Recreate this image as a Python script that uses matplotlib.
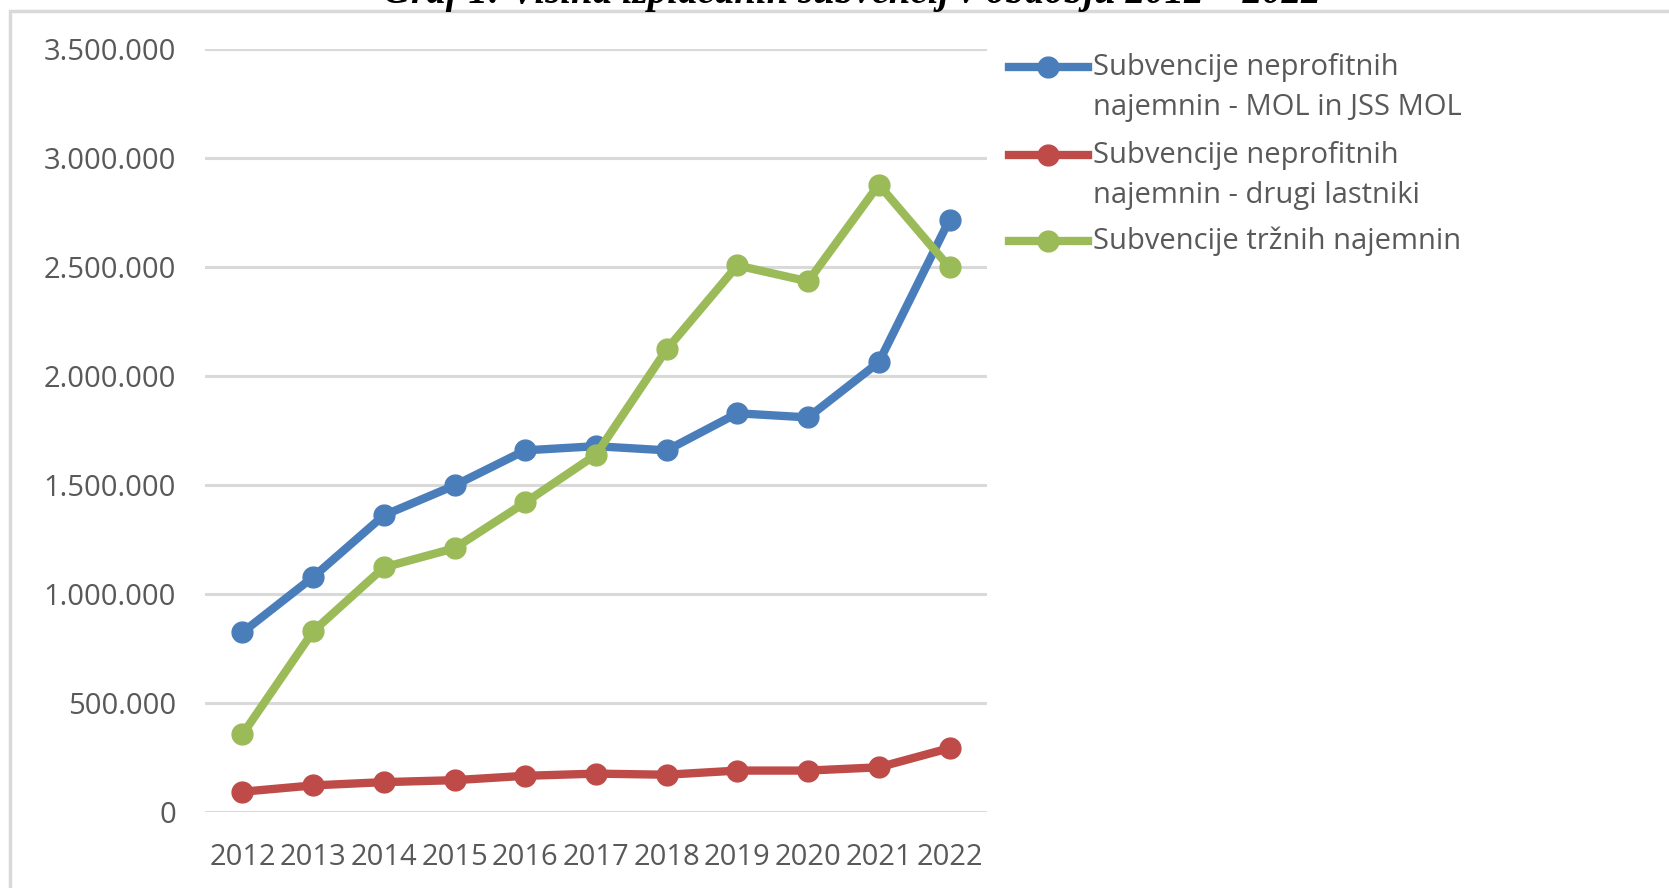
import numpy as np
import matplotlib.pyplot as plt
from matplotlib.lines import Line2D
from matplotlib.patches import Rectangle
from matplotlib.ticker import FuncFormatter, MultipleLocator

# podatki (odčitano z grafa)
years = [2012, 2013, 2014, 2015, 2016, 2017, 2018, 2019, 2020, 2021, 2022]
mol_jss = [824000, 1078000, 1361000, 1498000, 1659000, 1678000, 1659000, 1829000, 1810000, 2063000, 2717000]
drugi_lastniki = [93000, 122000, 137000, 146000, 166000, 176000, 171000, 190000, 190000, 205000, 293000]
trzne = [356000, 829000, 1122000, 1210000, 1420000, 1639000, 2122000, 2507000, 2434000, 2878000, 2498000]

series_names = [
    "Subvencije neprofitnih\nnajemnin - MOL in JSS MOL",
    "Subvencije neprofitnih\nnajemnin - drugi lastniki",
    "Subvencije tržnih najemnin",
]
series_colors = ["#4A7EBB", "#BE4B48", "#9BBB59"]
title = "Graf 1: Višina izplačanih subvencij v obdobju 2012 – 2022"

W, H = 1669, 888
TXT = "#595959"
FONT = "Open Sans"


def fx(px):
    return px / W


def fy(px):
    return 1 - px / H


fig = plt.figure(figsize=(W / 100, H / 100), dpi=100)
ax = fig.add_axes([fx(205), fy(812), fx(987) - fx(205), fy(49) - fy(812)])

for vals, color in zip([mol_jss, drugi_lastniki, trzne], series_colors):
    ax.plot(years, vals, color=color, lw=6, marker="o", ms=15,
            solid_joinstyle="round", clip_on=False, zorder=3)

ax.set_xlim(2011.47, 2022.53)
ax.set_ylim(0, 3500000)
ax.yaxis.set_major_locator(MultipleLocator(500000))
ax.yaxis.set_major_formatter(FuncFormatter(lambda v, p: f"{int(v):,}".replace(",", ".")))
ax.set_xticks(years)
ax.grid(axis="y", color="#D9D9D9", lw=2.2)
ax.grid(axis="x", visible=False)
ax.set_axisbelow(True)
for s in ax.spines.values():
    s.set_visible(False)
ax.tick_params(axis="y", length=0, pad=21, labelsize=21, labelcolor=TXT)
ax.tick_params(axis="x", length=0, pad=22, labelsize=21, labelcolor=TXT)
for lab in ax.get_xticklabels() + ax.get_yticklabels():
    lab.set_family(FONT)

# legenda (ročno, kot v Excelu)
leg_y = [67, 155, 241]
for name, color, y in zip(series_names, series_colors, leg_y):
    fig.add_artist(Line2D([fx(1009), fx(1088)], [fy(y), fy(y)], color=color, lw=6,
                          transform=fig.transFigure))
    fig.add_artist(Line2D([fx(1048)], [fy(y)], color=color, marker="o", ms=15,
                          transform=fig.transFigure))
    for k, line in enumerate(name.split("\n")):
        fig.text(fx(1093), fy(y + k * 41), line, ha="left", va="center",
                 fontsize=21, color=TXT, family=FONT)

# okvir in odrezan naslov
fig.add_artist(Rectangle((fx(10), -0.1), 1.2, fy(11) + 0.1, transform=fig.transFigure,
                         fill=False, edgecolor="#D9D9D9", lw=2.5))
fig.text(fx(852), fy(3), title, ha="center", va="baseline", fontsize=28,
         family="Liberation Serif", weight="bold", style="italic", color="black")

fig.savefig("out.png", dpi=100, facecolor="white")
